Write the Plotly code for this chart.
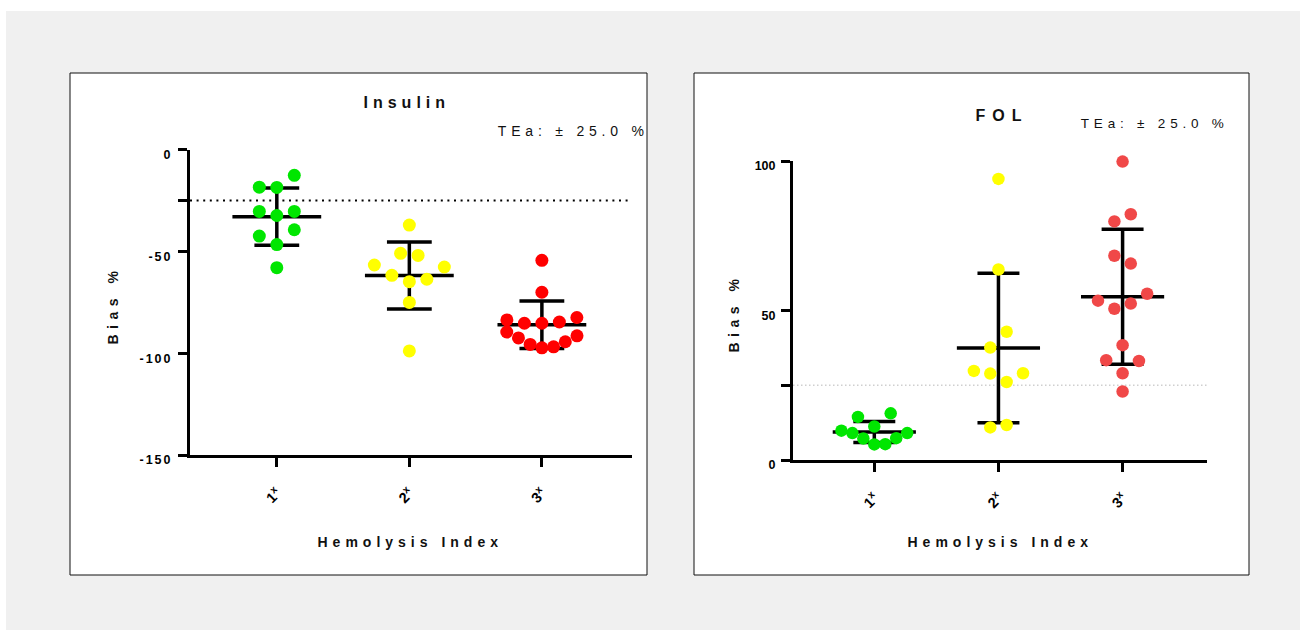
import json
import numpy as np
import plotly.graph_objects as go

W, H = 1300, 630

# ---------------- data ----------------
LEVELS = ["1", "2", "3"]
TICK_TEXT = [f"{lv}<sup>x</sup>" for lv in LEVELS]
TEA = 25.0  # total allowable error, %

# Insulin bias (%) by hemolysis index level
ins_1x = [-58.0, -46.7, -39.4, -42.5, -32.4, -30.4, -30.4, -18.6, -12.7, -18.5]
ins_2x = [-98.9, -75.1, -64.9, -63.7, -61.8, -57.7, -56.7, -52.0, -51.0, -37.1]
ins_3x = [-97.4, -96.9, -95.7, -94.4, -92.5, -91.5, -89.6, -85.3, -84.7, -85.3,
          -82.5, -83.7, -70.1, -54.4]

# Folate (FOL) bias (%) by hemolysis index level
fol_1x = [5.2, 5.3, 7.2, 7.3, 9.0, 9.0, 9.8, 11.2, 15.6, 14.4]
fol_2x = [11.7, 10.9, 26.1, 28.9, 29.0, 29.8, 42.9, 37.6, 63.7, 94.0]
fol_3x = [22.9, 29.0, 33.1, 38.4, 33.4, 52.3, 50.6, 55.6, 53.3, 65.7, 68.3,
          82.2, 79.8, 99.8]

# ---------------- panel geometry (pixels) ----------------
XRANGE = [-0.655, 2.68]
panels = [
    dict(name="Insulin", groups=[ins_1x, ins_2x, ins_3x],
         colors=["#00e600", "#ffff00", "#ff0000"],
         box=(70, 73, 647, 575), xpx=(190, 632), ypx=(149.5, 455),
         yrange=[-150, 0], ticks=[-150, -100, -50, -25, 0],
         tea_y=-TEA, tea_color="#000000", tea_dash="2px,4.6px", tea_w=2,
         title_xy=(407, 103), tea_xy=(573, 131), ytitle_xy=(113, 305),
         xtitle_xy=(410, 542), msize=13),
    dict(name="FOL", groups=[fol_1x, fol_2x, fol_3x],
         colors=["#00e600", "#ffff00", "#f04848"],
         box=(694, 73, 1249, 575), xpx=(793, 1207), ypx=(161, 460),
         yrange=[0, 100], ticks=[0, 25, 50, 100],
         tea_y=TEA, tea_color="#cfcfcf", tea_dash="1.5px,2.5px", tea_w=1.5,
         title_xy=(1002, 115), tea_xy=(1154, 124), ytitle_xy=(734, 313),
         xtitle_xy=(1000, 542), msize=12.5),
]

FONT = "Liberation Sans, Arial, sans-serif"


def px_x(px):
    return px / W


def px_y(py):
    return 1 - py / H


def swarm(values, px_per_unit, px_per_cat, row_h=17.5, step=0.132, half_max=0.265):
    """Column-scatter layout: values closer than row_h pixels share a row and
    are spread sideways, taking slots in the order they appear in the data."""
    vals = np.asarray(values, dtype=float)
    ypx = vals * px_per_unit
    order = np.argsort(ypx, kind="stable")
    rows, cur = [], []
    for i in order:
        if cur and ypx[i] - ypx[cur[0]] > row_h:
            rows.append(cur)
            cur = []
        cur.append(int(i))
    rows.append(cur)
    offs = np.zeros(len(vals))
    for row in rows:
        row = sorted(row)
        k = len(row)
        s = step if k < 3 else min(step, half_max / ((k - 1) / 2))
        if k % 2:
            slots = [0] + [m * sgn for m in range(1, k) for sgn in (1, -1)]
        else:
            slots = [(m + 0.5) * sgn for m in range(k) for sgn in (1, -1)]
        for j, i in enumerate(row):
            offs[i] = slots[j] * s
    return offs


fig = go.Figure()
shapes = [
    dict(type="rect", xref="paper", yref="paper", x0=px_x(6), x1=1, y0=0, y1=px_y(11),
         fillcolor="#f0f0f0", line=dict(width=0), layer="below"),
]
annotations = []
MEAN_HALF, CAP_HALF = 0.335, 0.169

for p_i, p in enumerate(panels):
    sfx = "" if p_i == 0 else "2"
    xa, ya = "x" + sfx, "y" + sfx
    bx0, by0, bx1, by1 = p["box"]
    shapes.append(dict(type="rect", xref="paper", yref="paper",
                       x0=px_x(bx0), x1=px_x(bx1), y0=px_y(by1), y1=px_y(by0),
                       fillcolor="white", line=dict(color="#111111", width=1),
                       layer="below"))
    # TEa reference line
    shapes.append(dict(type="line", xref=f"{xa} domain", yref=ya, x0=0, x1=1,
                       y0=p["tea_y"], y1=p["tea_y"], layer="below",
                       line=dict(color=p["tea_color"], width=p["tea_w"], dash=p["tea_dash"])))

    px_per_unit = (p["ypx"][1] - p["ypx"][0]) / (p["yrange"][1] - p["yrange"][0])
    px_per_cat = (p["xpx"][1] - p["xpx"][0]) / (XRANGE[1] - XRANGE[0])

    # mean +/- SD bars
    lx, ly = [], []
    for g, vals in enumerate(p["groups"]):
        m = float(np.mean(vals))
        sd = float(np.std(vals, ddof=1))
        lx += [g - MEAN_HALF, g + MEAN_HALF, None, g, g, None,
               g - CAP_HALF, g + CAP_HALF, None, g - CAP_HALF, g + CAP_HALF, None]
        ly += [m, m, None, m - sd, m + sd, None,
               m + sd, m + sd, None, m - sd, m - sd, None]
    fig.add_trace(go.Scatter(x=lx, y=ly, mode="lines", xaxis=xa, yaxis=ya,
                             line=dict(color="black", width=3.5), hoverinfo="skip",
                             cliponaxis=False))

    # individual points
    for g, vals in enumerate(p["groups"]):
        offs = swarm(vals, px_per_unit, px_per_cat)
        fig.add_trace(go.Scatter(x=g + offs, y=vals, mode="markers", xaxis=xa, yaxis=ya,
                                 marker=dict(size=p["msize"], color=p["colors"][g],
                                             line=dict(width=0)),
                                 cliponaxis=False, name=f"{p['name']} {LEVELS[g]}x"))

    ax_common = dict(showgrid=False, zeroline=False, showline=True, linecolor="black",
                     linewidth=3, ticks="outside", ticklen=9, tickwidth=3,
                     tickcolor="black", automargin=False)
    fig.update_layout({
        "xaxis" + sfx: dict(ax_common, domain=[px_x(p["xpx"][0]), px_x(p["xpx"][1])],
                            range=XRANGE, anchor=ya, tickvals=[0, 1, 2],
                            ticktext=TICK_TEXT, tickangle=-45, ticklabelstandoff=12,
                            tickfont=dict(family=FONT, size=14.5, color="black",
                                          weight="bold")),
        "yaxis" + sfx: dict(ax_common, domain=[px_y(p["ypx"][1]), px_y(p["ypx"][0])],
                            range=p["yrange"], anchor=xa, tickvals=p["ticks"],
                            ticktext=[("" if abs(t) == TEA else f"{t:g}") for t in p["ticks"]],
                            ticklabelstandoff=3, ticklabelshift=5,
                            tickfont=dict(family=FONT, size=12.5, color="black",
                                          weight="bold")),
    })

    def ann(text, xy, size, bold=True, angle=0):
        annotations.append(dict(text=text, x=px_x(xy[0]), y=px_y(xy[1]), xref="paper",
                                yref="paper", xanchor="center", yanchor="middle",
                                showarrow=False, textangle=angle,
                                font=dict(family=FONT, size=size, color="#111111",
                                          weight="bold" if bold else "normal")))

    ann(p["name"], p["title_xy"], 16)
    ann(f"TEa: ± {TEA:.1f} %", p["tea_xy"], 14 if p_i == 0 else 13.5, bold=False)
    ann("Bias %", p["ytitle_xy"], 14, angle=-90)
    ann("Hemolysis Index", p["xtitle_xy"], 14)

fig.update_layout(width=W, height=H, autosize=False, showlegend=False,
                  margin=dict(l=0, r=0, t=0, b=0, pad=0), paper_bgcolor="white",
                  plot_bgcolor="rgba(0,0,0,0)", shapes=shapes, annotations=annotations)

# wide letter spacing of the chart lettering
spacing = {"Insulin": 5, "FOL": 7, "Bias %": 5.5, "Hemolysis Index": 5,
           f"TEa: ± {TEA:.1f} %": 4.8}
post_js = """
var gd = document.getElementById('{plot_id}');
var sp = SPACING;
gd.querySelectorAll('.annotation-text').forEach(function(t){
  var k = t.textContent;
  if (sp[k] !== undefined) { t.style.letterSpacing = sp[k] + 'px'; }
});
gd.querySelectorAll('.ytick text').forEach(function(t){ t.style.letterSpacing = '2px'; });
""".replace("SPACING", json.dumps(spacing, ensure_ascii=False))

fig.write_html("out.html", post_script=post_js)
